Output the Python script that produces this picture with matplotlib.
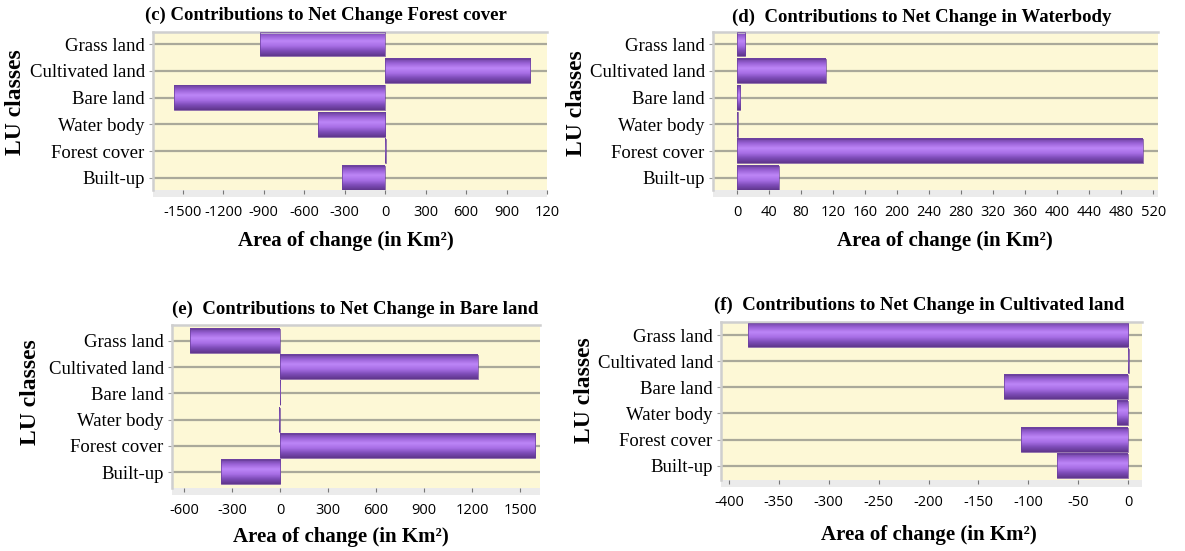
import matplotlib
matplotlib.use("Agg")
import matplotlib.pyplot as plt
import numpy as np
from matplotlib.colors import LinearSegmentedColormap
from matplotlib.patches import Rectangle

W, H = 1185, 551

classes = ["Built-up", "Forest cover", "Water body", "Bare land", "Cultivated land", "Grass land"]

# net change contributions (km2), same order as classes
forest_vals = [-318, 4, -497, -1562, 1075, -925]
water_vals = [52, 507, 1, 4, 111, 10]
bare_vals = [-369, 1594, -4, 3, 1237, -562]
cult_vals = [-71, -107, -11, -124, 1, -381]

forest_ticks = [-1500, -1200, -900, -600, -300, 0, 300, 600, 900, 1200]
forest_ticklabels = ["-1500", "-1200", "-900", "-600", "-300", "0", "300", "600", "900", "120"]
water_ticks = list(range(0, 521, 40))
bare_ticks = [-600, -300, 0, 300, 600, 900, 1200, 1500]
cult_ticks = [-400, -350, -300, -250, -200, -150, -100, -50, 0]

titles = ["(c) Contributions to Net Change Forest cover",
          "(d)  Contributions to Net Change in Waterbody",
          "(e)  Contributions to Net Change in Bare land",
          "(f)  Contributions to Net Change in Cultivated land"]

serif = "Liberation Serif"
sans = "Open Sans"
bg = "#fdf8d6"
gridc = "#aaa99a"
bandc = "#ebebeb"

shade = LinearSegmentedColormap.from_list(
    "bar", ["#6a3f9c", "#9a62d6", "#bd86f7", "#a86fe6", "#7e4cb8", "#5f368c"])
grad = np.linspace(0, 1, 64).reshape(-1, 1)

fig = plt.figure(figsize=(W / 100, H / 100), dpi=100)


def px_axes(l, r, t, b):
    return fig.add_axes([l / W, 1 - b / H, (r - l) / W, (b - t) / H])


def panel(box, vals, xlim, ylim, ticks, ticklabels=None):
    ax = px_axes(*box)
    ax.set_facecolor(bg)
    ys = np.arange(len(classes))
    for y in ys:
        ax.axhline(y, color=gridc, lw=1.6, zorder=1)
    hgt = 0.92
    for y, v in zip(ys, vals):
        x0, x1 = min(0, v), max(0, v)
        if x1 - x0 == 0:
            continue
        ax.imshow(grad, cmap=shade, aspect="auto", extent=[x0, x1, y - hgt / 2, y + hgt / 2],
                  origin="upper", zorder=2, interpolation="bilinear")
        ax.add_patch(Rectangle((x0, y - hgt / 2), x1 - x0, hgt, fill=False,
                               ec="#6a3f9c", lw=0.5, zorder=3))
    ax.set_xlim(*xlim)
    ax.set_ylim(*ylim)
    ax.set_yticks(ys)
    ax.set_yticklabels(classes, fontfamily=serif, fontsize=13.5)
    ax.set_xticks(ticks)
    ax.set_xticklabels(ticklabels if ticklabels else [str(t) for t in ticks],
                       fontfamily=sans, fontsize=10.5)
    ax.tick_params(axis="y", length=3, color="#9a9a9a", pad=3)
    ax.tick_params(axis="x", length=3, color="#777777", pad=8, direction="out")
    for s in ["right", "bottom"]:
        ax.spines[s].set_visible(False)
    for s in ["left", "top"]:
        ax.spines[s].set_color("#cfcfcf")
        ax.spines[s].set_linewidth(1.8)
    # grey strip under the plot area that holds the x ticks
    ax.add_patch(Rectangle((0, -0.045), 1, 0.045, transform=ax.transAxes,
                           fc=bandc, ec="none", clip_on=False, zorder=0))
    return ax


panel((153, 547, 32, 190), forest_vals, (-1720, 1200), (-0.45, 5.45), forest_ticks, forest_ticklabels)
panel((713, 1158, 32, 190), water_vals, (-30, 526), (-0.45, 5.45), water_ticks)
panel((172, 540, 325, 488), bare_vals, (-675, 1625), (-0.6, 5.6), bare_ticks)
panel((721, 1142, 322, 480), cult_vals, (-408, 14), (-0.55, 5.5), cult_ticks)

title_pos = [(326, 15), (922, 17), (355, 309), (919, 305)]
for t, (x, y) in zip(titles, title_pos):
    fig.text(x / W, 1 - y / H, t, ha="center", va="center", fontfamily=serif,
             fontweight="bold", fontsize=13.5)

xlab = "Area of change (in Km²)"
xlab_pos = [(346, 241), (945, 241), (341, 537), (929, 535)]
for x, y in xlab_pos:
    fig.text(x / W, 1 - y / H, xlab, ha="center", va="center", fontfamily=serif,
             fontweight="bold", fontsize=15)

ylab_pos = [(16, 102), (577, 103), (31, 392), (584, 390)]
for x, y in ylab_pos:
    fig.text(x / W, 1 - y / H, "LU classes", ha="center", va="center", rotation=90,
             fontfamily=serif, fontweight="bold", fontsize=17)

fig.savefig("out.png", dpi=100)
